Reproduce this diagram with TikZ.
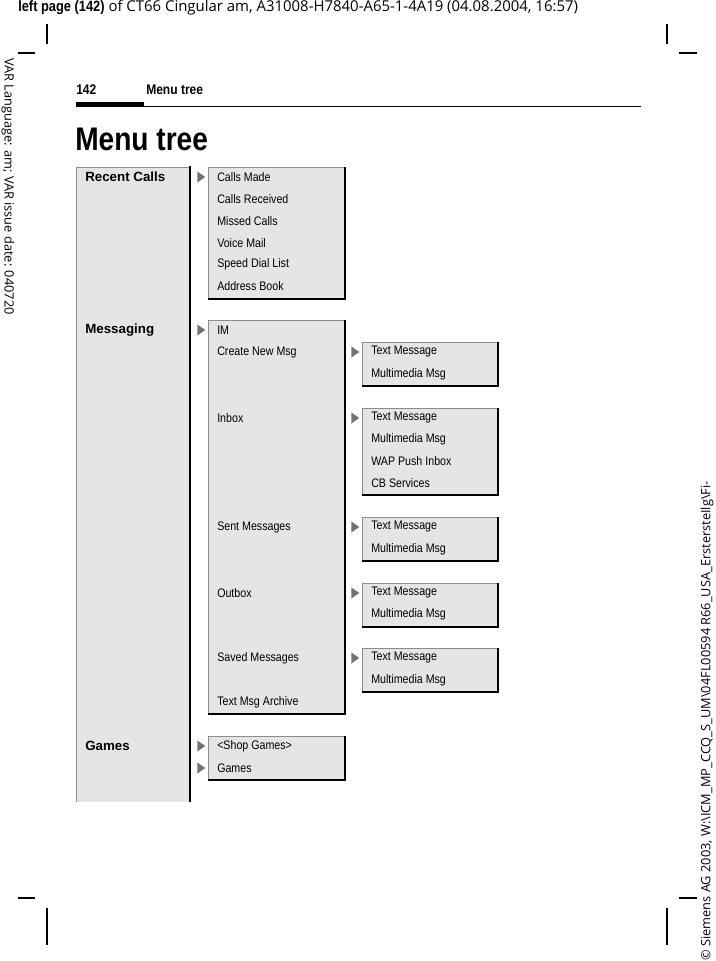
\documentclass[tikz,border=0pt]{standalone}
\usepackage{fontspec}
\setmainfont{Liberation Sans}
\newfontfamily\cond[FakeStretch=0.86]{Liberation Sans}
\newfontfamily\side{Open Sans}
\usetikzlibrary{shapes.geometric}
\newcommand\menubox[4]{%
  \fill[black!10] (#1,#2) rectangle (#3,#4);
  \draw[black!45,line width=0.5pt] (#1,#4) -- (#1,#2) -- (#3,#2);
  \draw[line width=1.6pt] (#3,#2) -- (#3,#4) -- (#1,#4);}
\begin{document}
\begin{tikzpicture}[x=0.75pt,y=-0.75pt,
  itm/.style={anchor=west,inner sep=0pt,font=\cond\fontsize{9.3}{10}\selectfont},
  head/.style={anchor=west,inner sep=0pt,font=\bfseries\fontsize{10}{12}\selectfont},
  tri/.style={fill=black!55,draw=none,isosceles triangle,isosceles triangle apex angle=70,minimum height=6pt,inner sep=0pt,anchor=west},
  crop/.style={line width=0.8pt}]
\useasboundingbox (0,0) rectangle (715,961);
% header
\node[anchor=west,inner sep=0pt,font=\side\fontsize{11.2}{12}\selectfont] (hdr) at (18,8) {{\cond\bfseries left page (142)} of CT66 Cingular am, A31008-H7840-A65-1-4A19 (04.08.2004, 16:57)};
\node[rotate=-90,anchor=west,inner sep=0pt,font=\side\fontsize{9.6}{11}\selectfont] (lside) at (8,58) {VAR Language: am; VAR issue date: 040720};
\node[rotate=90,anchor=west,inner sep=0pt,font=\side\fontsize{9.6}{11}\selectfont] (rside) at (707,961) {\textcopyright{} Siemens AG 2003, W:\textbackslash ICM\_MP\_CCQ\_S\_UM\textbackslash 04FL00594 R66\_USA\_ErstersteIlg\textbackslash Fi-};
% crop marks
\draw[crop] (47,24) -- (47,44); \draw[crop] (18,53) -- (35,53);
\draw[crop] (667,24) -- (667,44); \draw[crop] (679,53) -- (697,53);
\draw[crop] (47,908) -- (47,945); \draw[crop] (18,898) -- (35,898);
\draw[crop] (667,908) -- (667,945); \draw[crop] (679,898) -- (697,898);
% running head
\node[anchor=west,inner sep=0pt,font=\cond\bfseries\fontsize{10.5}{12}\selectfont] (pn) at (76,90) {142};
\node[anchor=west,inner sep=0pt,font=\cond\bfseries\fontsize{10.5}{12}\selectfont] (rh) at (146,90) {Menu tree};
\draw[line width=0.6pt] (76,106) -- (641,106);
\draw[line width=2.4pt] (76,104) -- (144,104);
\node[anchor=west,inner sep=0pt,font=\cond\bfseries\fontsize{24.5}{28}\selectfont] (title) at (75,139) {Menu tree};
% left column
\fill[black!10] (76,167) rectangle (190,802);
\draw[black!45,line width=0.5pt] (76,802) -- (76,167) -- (190,167);
\draw[line width=1.6pt] (190,166) -- (190,802);
\node[head] (h1) at (85,177) {Recent Calls};
\node[head] (h2) at (85,330) {Messaging};
\node[head] (h3) at (85,746) {Games};
\menubox{208}{167}{345}{299}
\menubox{208}{320}{345}{714}
\menubox{208}{736}{345}{780}
\menubox{362}{342}{498}{386}
\menubox{362}{408}{498}{495}
\menubox{362}{517}{498}{561}
\menubox{362}{583}{498}{627}
\menubox{362}{648}{498}{692}
% arrows
\foreach \y/\n in {177/a1,330/a2,746/a3,768/a4} \node[tri] (\n) at (197,\y) {};
\foreach \y/\n in {352/b1,418/b2,527/b3,593/b4,658/b5} \node[tri] (\n) at (351,\y) {};
% items
\node[itm] (r1) at (217,177) {Calls Made};
\node[itm] (r2) at (217,199) {Calls Received};
\node[itm] (r3) at (217,221) {Missed Calls};
\node[itm] (r4) at (217,243) {Voice Mail};
\node[itm] (r5) at (217,264) {Speed Dial List};
\node[itm] (r6) at (217,286) {Address Book};
\node[itm] (m1) at (217,330) {IM};
\node[itm] (m2) at (217,352) {Create New Msg};
\node[itm] (m3) at (217,418) {Inbox};
\node[itm] (m4) at (217,527) {Sent Messages};
\node[itm] (m5) at (217,593) {Outbox};
\node[itm] (m6) at (217,658) {Saved Messages};
\node[itm] (m7) at (217,702) {Text Msg Archive};
\node[itm] (g1) at (217,746) {<Shop Games>};
\node[itm] (g2) at (217,768) {Games};
\node[itm] (c1) at (371,352) {Text Message};
\node[itm] (c2) at (371,374) {Multimedia Msg};
\node[itm] (i1) at (371,418) {Text Message};
\node[itm] (i2) at (371,439) {Multimedia Msg};
\node[itm] (i3) at (371,461) {WAP Push Inbox};
\node[itm] (i4) at (371,483) {CB Services};
\node[itm] (s1) at (371,527) {Text Message};
\node[itm] (s2) at (371,549) {Multimedia Msg};
\node[itm] (o1) at (371,593) {Text Message};
\node[itm] (o2) at (371,614) {Multimedia Msg};
\node[itm] (v1) at (371,658) {Text Message};
\node[itm] (v2) at (371,680) {Multimedia Msg};
\end{tikzpicture}
\end{document}
